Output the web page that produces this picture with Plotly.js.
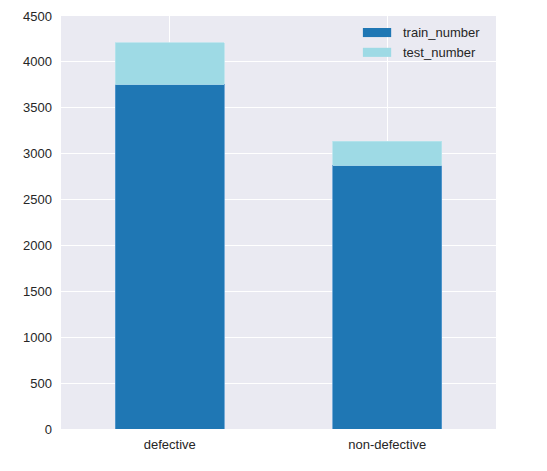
<!DOCTYPE html>
<html>
<head>
<meta charset="utf-8">
<script src="https://cdn.plot.ly/plotly-3.0.1.min.js"></script>
<style>body{margin:0;padding:0;background:#fff;}#chart{width:547px;height:471px;}</style>
</head>
<body>
<div id="chart"></div>
<script>
const categories = ["defective", "non-defective"];
const trainNumber = [3758, 2876];
const testNumber = [450, 258];
const yTicks = [0, 500, 1000, 1500, 2000, 2500, 3000, 3500, 4000, 4500];
const seriesNames = ["train_number", "test_number"];
const seriesColors = ["#1f77b4", "#9edae5"];

const traces = [
  {type: 'bar', name: seriesNames[0], x: categories, y: trainNumber,
   marker: {color: seriesColors[0], line: {color: '#5a9bd0', width: 0.8}}, width: 0.5},
  {type: 'bar', name: seriesNames[1], x: categories, y: testNumber,
   marker: {color: seriesColors[1], line: {color: '#b8e4ec', width: 0.8}}, width: 0.5}
];

// legend drawn as paper-space patches + labels (matplotlib-style wide patches)
const legendShapes = [];
const legendAnn = [];
const legendRows = [[0.971, 0.949, 0.960], [0.923, 0.901, 0.912]];
seriesNames.forEach((n, i) => {
  legendShapes.push({type: 'rect', xref: 'paper', yref: 'paper', x0: 0.694, x1: 0.759,
    y0: legendRows[i][1], y1: legendRows[i][0], fillcolor: seriesColors[i], line: {width: 0}});
  legendAnn.push({xref: 'paper', yref: 'paper', x: 0.782, y: legendRows[i][2], text: n,
    showarrow: false, xanchor: 'left', yanchor: 'middle', font: {size: 13, color: '#262626'}});
});

const layout = {
  width: 547, height: 471,
  barmode: 'stack',
  margin: {l: 61, r: 51, t: 16, b: 42, pad: 0},
  paper_bgcolor: '#ffffff',
  plot_bgcolor: '#EAEAF2',
  font: {family: 'Liberation Sans, Arial, sans-serif', size: 13, color: '#262626'},
  showlegend: false,
  shapes: legendShapes,
  annotations: legendAnn,
  xaxis: {type: 'category', range: [-0.5, 1.5], showgrid: true, gridcolor: '#ffffff', gridwidth: 1.2,
          zeroline: false, showline: false, ticks: '', ticklabelstandoff: 6},
  yaxis: {range: [0, 4500], tickvals: yTicks, ticktext: yTicks.map(String), showgrid: true,
          gridcolor: '#ffffff', gridwidth: 1.2, zeroline: false, showline: false, ticks: '',
          ticklabelstandoff: 8}
};

Plotly.newPlot('chart', traces, layout, {displayModeBar: false, staticPlot: true});
</script>
</body>
</html>
